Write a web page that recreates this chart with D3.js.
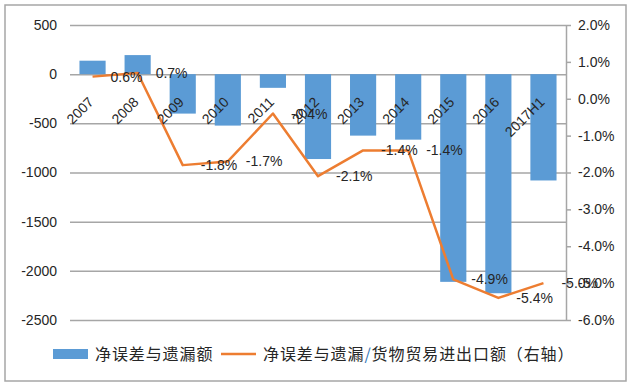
<!DOCTYPE html>
<html>
<head>
<meta charset="utf-8">
<script src="https://cdn.jsdelivr.net/npm/d3@7"></script>
<style>
  body { margin: 0; background: #fff; }
  text { font-family: "Liberation Sans", Arial, sans-serif; fill: #262626; }
  .legend text { font-family: "Noto Sans CJK SC", sans-serif; }
</style>
</head>
<body>
<div id="chart"></div>
<script>
// categories and values
var years = ["2007", "2008", "2009", "2010", "2011", "2012", "2013", "2014", "2015", "2016", "2017H1"];
var errorsOmissions = [137, 194, -401, -523, -139, -863, -625, -666, -2112, -2228, -1081];
var ratioToTrade = [0.006, 0.007, -0.018, -0.017, -0.004, -0.021, -0.014, -0.014, -0.049, -0.054, -0.050];
var leftTicks = [500, 0, -500, -1000, -1500, -2000, -2500];
var rightTicks = [0.02, 0.01, 0, -0.01, -0.02, -0.03, -0.04, -0.05, -0.06];

var width = 636, height = 387;
var plot = {left: 70, right: 566, top: 25, bottom: 320};

var blue = "#5b9bd5", orange = "#ed7d31", grid = "#a6a6a6";

// plain hyphen minus, like the original
function pct(d) { return (d * 100).toFixed(1).replace("\u2212", "-") + "%"; }

var svg = d3.select("#chart")
    .append("svg")
        .attr("width", width)
        .attr("height", height);

// outer frame
svg.append("rect")
    .attr("x", 5).attr("y", 5)
    .attr("width", 621).attr("height", 376)
    .attr("fill", "#fff")
    .attr("stroke", "#a6a6a6")
    .attr("stroke-width", 1.5);

// scales
var x = d3.scaleBand()
    .domain(years)
    .range([plot.left, plot.right])
    .paddingInner(0.42)
    .paddingOuter(0.21);

var y = d3.scaleLinear().domain([-2500, 500]).range([plot.bottom, plot.top]);
var y2 = d3.scaleLinear().domain([-0.06, 0.02]).range([plot.bottom, plot.top]);

function cx(d) { return x(d) + x.bandwidth() / 2; }

// left axis: gridlines + labels
var leftAxis = svg.append("g")
    .attr("transform", "translate(" + plot.left + ",0)")
    .call(d3.axisLeft(y).tickValues(leftTicks).tickSize(-(plot.right - plot.left)).tickPadding(13)
        .tickFormat(function(d) { return String(d); }));
leftAxis.select(".domain").remove();
leftAxis.selectAll(".tick line").attr("stroke", grid).attr("stroke-width", 1.5);
leftAxis.selectAll(".tick text").style("font-size", "14px").attr("fill", "#262626");

// right axis
var rightAxis = svg.append("g")
    .attr("transform", "translate(" + plot.right + ",0)")
    .call(d3.axisRight(y2).tickValues(rightTicks).tickSize(5).tickSizeOuter(0).tickPadding(7)
        .tickFormat(pct));
rightAxis.select(".domain").attr("stroke", grid).attr("stroke-width", 1.5);
rightAxis.selectAll(".tick line").attr("stroke", grid).attr("stroke-width", 1.5);
rightAxis.selectAll(".tick text").style("font-size", "14px").attr("fill", "#262626");

// bars
svg.append("g").selectAll("rect")
    .data(errorsOmissions)
    .enter().append("rect")
        .attr("x", function(d, i) { return x(years[i]); })
        .attr("width", x.bandwidth())
        .attr("y", function(d) { return y(Math.max(0, d)); })
        .attr("height", function(d) { return Math.abs(y(d) - y(0)); })
        .attr("fill", blue);

// line
var valueline = d3.line()
    .x(function(d, i) { return cx(years[i]); })
    .y(function(d) { return y2(d); });

svg.append("path")
    .datum(ratioToTrade)
    .attr("d", valueline)
    .attr("fill", "none")
    .attr("stroke", orange)
    .attr("stroke-width", 2.5)
    .attr("stroke-linejoin", "round");

// category labels, rotated, hanging below the zero line
svg.append("g").selectAll("text")
    .data(years)
    .enter().append("text")
        .attr("transform", function(d) { return "translate(" + (cx(d) + 2) + ",103) rotate(-45)"; })
        .attr("text-anchor", "end")
        .style("font-size", "14px")
        .text(function(d) { return d; });

// data labels to the right of each point
svg.append("g").selectAll("text")
    .data(ratioToTrade)
    .enter().append("text")
        .attr("x", function(d, i) { return cx(years[i]) + 18; })
        .attr("y", function(d) { return y2(d); })
        .attr("dy", "0.36em")
        .style("font-size", "14px")
        .text(pct);

// legend
var legend = svg.append("g").attr("class", "legend");
legend.append("rect")
    .attr("x", 53).attr("y", 349).attr("width", 35).attr("height", 10)
    .attr("fill", blue);
legend.append("text")
    .attr("x", 95).attr("y", 354).attr("dy", "0.36em")
    .style("font-size", "16px").style("letter-spacing", "0.9px")
    .text("净误差与遗漏额");
legend.append("line")
    .attr("x1", 221).attr("x2", 256).attr("y1", 354).attr("y2", 354)
    .attr("stroke", orange).attr("stroke-width", 2.5);
var t2 = legend.append("text")
    .attr("x", 263).attr("y", 354).attr("dy", "0.36em")
    .style("font-size", "16px").style("letter-spacing", "0.9px");
t2.append("tspan").text("净误差与遗漏");
t2.append("tspan").style("fill", "#2e75b6").text("/");
t2.append("tspan").text("货物贸易进出口额（右轴）");
</script>
</body>
</html>
